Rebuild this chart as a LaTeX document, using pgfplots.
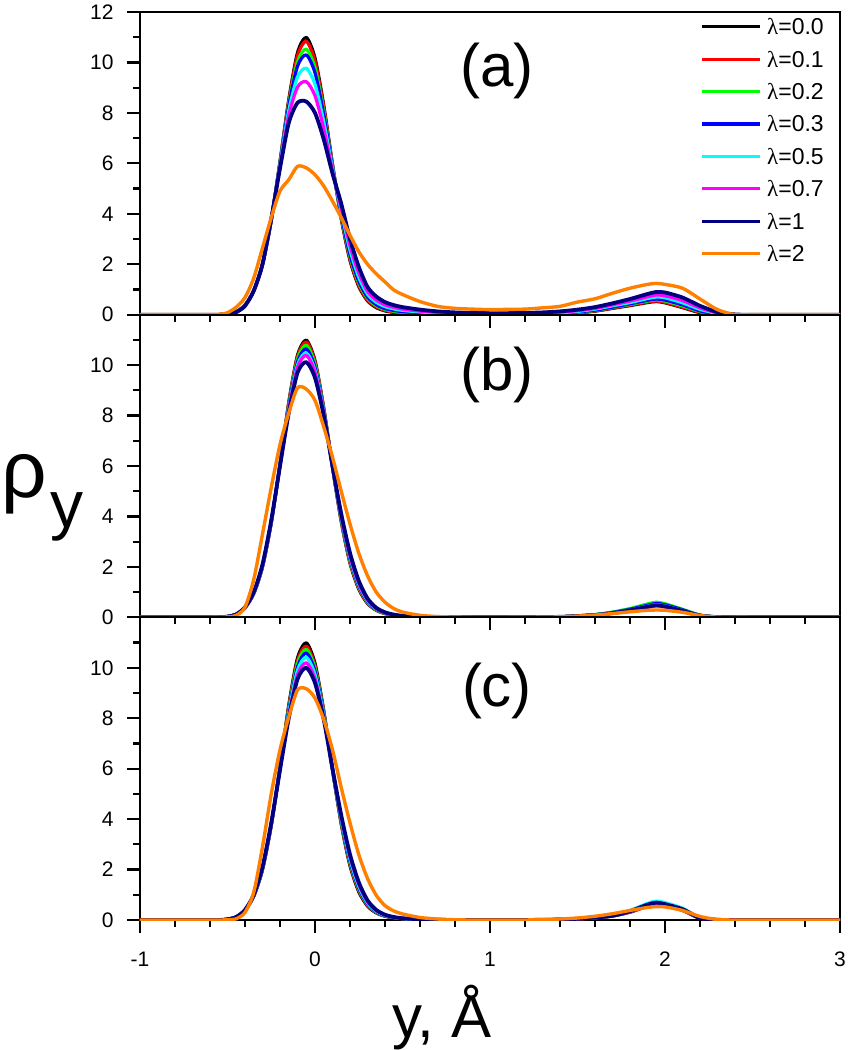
\documentclass[border=0pt]{standalone}
\usepackage{pgfplots}
\pgfplotsset{compat=1.18}
\usepackage{pgfplotstable}
\usepackage{fontspec}
\setmainfont{Liberation Sans}
\newfontfamily\lamfont{Liberation Serif}
\newcommand{\lam}{{\lamfont λ}}
\definecolor{cnavy}{RGB}{0,0,128}
\definecolor{corange}{RGB}{255,128,0}
\definecolor{cgreen}{RGB}{0,255,0}
\definecolor{ccyan}{RGB}{0,255,255}
\definecolor{cmag}{RGB}{255,0,255}
\definecolor{cred}{RGB}{255,0,0}
\definecolor{cblue}{RGB}{0,0,255}
\newcommand{\sw}[1]{\textcolor{#1}{\rule[6.4pt]{58pt}{3.2pt}}\hspace{7pt}}

\pgfplotstableread{
x      l0    l1    l2    l3    l5    l7    l10   l20
-1.0   0     0     0     0     0     0     0     0
-0.6   0     0     0     0     0     0     0     0
-0.55  0     0     0     0     0     0     0     0.01
-0.5   0.03  0.03  0.03  0.03  0.03  0.02  0.02  0.08
-0.45  0.12  0.12  0.12  0.11  0.11  0.11  0.10  0.30
-0.4   0.38  0.38  0.37  0.37  0.37  0.36  0.35  0.68
-0.35  0.94  0.94  0.94  0.94  0.94  0.95  0.95  1.45
-0.3   2.00  2.00  2.00  2.00  2.00  2.00  2.00  2.65
-0.25  3.75  3.75  3.76  3.76  3.77  3.78  3.80  3.85
-0.2   6.07  6.05  6.02  6.00  5.94  5.88  5.80  4.90
-0.15  8.52  8.46  8.35  8.27  8.08  7.89  7.60  5.35
-0.1   10.39 10.27 10.03 9.85  9.43  9.02  8.40  5.88
-0.05  10.99 10.84 10.53 10.30 9.77  9.24  8.45  5.82
0      10.18 10.05 9.79  9.59  9.13  8.68  8.00  5.55
0.05   8.30  8.22  8.06  7.94  7.65  7.37  6.95  5.10
0.1    5.96  5.94  5.90  5.86  5.79  5.71  5.60  4.50
0.15   3.80  3.84  3.91  3.96  4.09  4.21  4.40  3.85
0.2    2.15  2.20  2.30  2.38  2.56  2.74  3.00  3.15
0.25   1.12  1.17  1.26  1.33  1.49  1.66  1.90  2.50
0.3    0.55  0.58  0.65  0.70  0.81  0.93  1.10  2.00
0.35   0.28  0.31  0.36  0.40  0.49  0.58  0.72  1.62
0.4    0.15  0.17  0.21  0.24  0.32  0.39  0.50  1.30
0.45   0.09  0.11  0.14  0.17  0.23  0.29  0.38  0.98
0.5    0.05  0.07  0.10  0.12  0.17  0.22  0.30  0.80
0.6    0.02  0.03  0.05  0.07  0.11  0.14  0.20  0.52
0.7    0.01  0.02  0.03  0.04  0.07  0.09  0.13  0.33
0.8    0     0.01  0.02  0.02  0.04  0.06  0.09  0.25
0.9    0     0     0.01  0.02  0.03  0.05  0.07  0.22
1.0    0     0     0.01  0.02  0.03  0.04  0.06  0.20
1.1    0     0     0.01  0.02  0.03  0.04  0.06  0.21
1.2    0     0     0.01  0.02  0.03  0.05  0.07  0.22
1.3    0.01  0.01  0.02  0.03  0.05  0.07  0.09  0.27
1.4    0.03  0.04  0.05  0.06  0.08  0.10  0.13  0.33
1.5    0.07  0.08  0.09  0.11  0.13  0.16  0.20  0.50
1.6    0.14  0.15  0.17  0.18  0.22  0.25  0.30  0.63
1.7    0.25  0.26  0.29  0.30  0.35  0.39  0.45  0.85
1.8    0.36  0.38  0.41  0.43  0.48  0.54  0.62  1.05
1.9    0.48  0.50  0.54  0.57  0.64  0.71  0.82  1.20
1.95   0.52  0.54  0.59  0.62  0.70  0.78  0.90  1.24
2.0    0.47  0.49  0.54  0.58  0.67  0.75  0.88  1.20
2.1    0.28  0.30  0.35  0.39  0.47  0.56  0.68  1.05
2.2    0.08  0.10  0.13  0.15  0.21  0.27  0.35  0.62
2.3    0.01  0.02  0.03  0.03  0.05  0.07  0.10  0.20
2.4    0     0     0     0     0     0     0.01  0
2.5    0     0     0     0     0     0     0     0
3.0    0     0     0     0     0     0     0     0
}\tabA

\pgfplotstableread{
x      l0    l1    l2    l3    l5    l7    l10   l20
-1.0   0     0     0     0     0     0     0     0
-0.6   0     0     0     0     0     0     0     0
-0.55  0     0     0     0     0     0     0     0
-0.5   0.03  0.03  0.03  0.03  0.03  0.03  0.03  0.02
-0.45  0.12  0.12  0.12  0.12  0.12  0.12  0.12  0.08
-0.4   0.38  0.38  0.38  0.39  0.39  0.39  0.40  0.40
-0.35  0.94  0.94  0.95  0.96  0.97  0.98  1.00  1.50
-0.3   2.00  2.01  2.02  2.04  2.06  2.07  2.10  3.30
-0.25  3.75  3.76  3.77  3.79  3.81  3.82  3.85  5.15
-0.2   6.07  6.06  6.05  6.04  6.03  6.02  6.00  6.85
-0.15  8.52  8.49  8.42  8.36  8.28  8.23  8.10  8.10
-0.1   10.39 10.33 10.23 10.12 10.00 9.91  9.70  9.10
-0.05  10.99 10.92 10.79 10.65 10.49 10.39 10.12 9.05
0      10.18 10.13 10.02 9.91  9.79  9.71  9.50  8.60
0.05   8.30  8.28  8.23  8.18  8.13  8.09  8.00  7.55
0.1    5.96  5.96  5.97  5.98  5.98  5.99  6.00  6.35
0.15   3.80  3.82  3.87  3.92  3.97  4.01  4.10  5.00
0.2    2.15  2.18  2.24  2.31  2.38  2.43  2.55  3.70
0.25   1.12  1.15  1.20  1.25  1.31  1.35  1.45  2.55
0.3    0.55  0.57  0.60  0.63  0.66  0.69  0.75  1.65
0.35   0.28  0.29  0.30  0.32  0.34  0.35  0.38  1.00
0.4    0.15  0.15  0.16  0.17  0.18  0.18  0.20  0.60
0.45   0.09  0.09  0.09  0.10  0.10  0.10  0.11  0.35
0.5    0.05  0.05  0.05  0.05  0.06  0.06  0.06  0.21
0.6    0.02  0.02  0.02  0.02  0.02  0.02  0.02  0.08
0.7    0.01  0.01  0.01  0.01  0.01  0.01  0.01  0.03
0.8    0     0     0     0     0     0     0     0.01
0.9    0     0     0     0     0     0     0     0
1.0    0     0     0     0     0     0     0     0
1.1    0     0     0     0     0     0     0     0
1.2    0     0     0     0     0     0     0     0
1.3    0.01  0.01  0.01  0.01  0.01  0.01  0.01  0.01
1.4    0.02  0.02  0.02  0.02  0.02  0.02  0.02  0.02
1.5    0.05  0.05  0.06  0.06  0.05  0.05  0.05  0.05
1.6    0.10  0.10  0.11  0.10  0.10  0.09  0.09  0.09
1.7    0.18  0.18  0.21  0.19  0.18  0.16  0.17  0.15
1.8    0.30  0.30  0.35  0.32  0.29  0.26  0.28  0.22
1.9    0.46  0.46  0.53  0.48  0.44  0.40  0.42  0.28
1.95   0.52  0.52  0.60  0.55  0.50  0.45  0.48  0.29
2.0    0.47  0.47  0.54  0.50  0.45  0.41  0.43  0.28
2.1    0.28  0.28  0.32  0.30  0.27  0.24  0.26  0.20
2.2    0.08  0.08  0.09  0.08  0.08  0.07  0.07  0.07
2.3    0.01  0.01  0.01  0.01  0.01  0.01  0.01  0.01
2.4    0     0     0     0     0     0     0     0
2.5    0     0     0     0     0     0     0     0
3.0    0     0     0     0     0     0     0     0
}\tabB

\pgfplotstableread{
x      l0    l1    l2    l3    l5    l7    l10   l20
-1.0   0     0     0     0     0     0     0     0
-0.6   0     0     0     0     0     0     0     0
-0.55  0     0     0     0     0     0     0     0
-0.5   0.03  0.03  0.03  0.03  0.03  0.03  0.03  0.01
-0.45  0.12  0.12  0.12  0.12  0.12  0.12  0.12  0.05
-0.4   0.38  0.38  0.39  0.39  0.39  0.40  0.40  0.30
-0.35  0.94  0.95  0.96  0.96  0.97  0.99  1.00  1.10
-0.3   2.00  2.01  2.03  2.04  2.06  2.08  2.10  2.90
-0.25  3.75  3.76  3.78  3.79  3.81  3.83  3.85  5.00
-0.2   6.07  6.05  6.04  6.02  6.00  5.97  5.95  6.75
-0.15  8.52  8.45  8.38  8.31  8.22  8.10  8.00  8.05
-0.1   10.39 10.28 10.17 10.03 9.90  9.72  9.55  9.12
-0.05  10.99 10.86 10.73 10.59 10.42 10.20 10.00 9.17
0      10.18 10.08 9.98  9.87  9.73  9.56  9.40  8.80
0.05   8.30  8.25  8.21  8.16  8.10  8.02  7.95  7.95
0.1    5.96  5.97  5.97  5.98  5.98  5.99  6.00  6.75
0.15   3.80  3.85  3.89  3.94  4.00  4.08  4.15  5.25
0.2    2.15  2.21  2.27  2.33  2.41  2.51  2.60  3.85
0.25   1.12  1.17  1.22  1.27  1.34  1.42  1.50  2.60
0.3    0.55  0.58  0.61  0.64  0.68  0.73  0.78  1.65
0.35   0.28  0.30  0.31  0.33  0.35  0.38  0.40  0.98
0.4    0.15  0.16  0.17  0.17  0.18  0.20  0.21  0.57
0.45   0.09  0.09  0.10  0.10  0.11  0.11  0.12  0.36
0.5    0.05  0.05  0.06  0.06  0.06  0.07  0.07  0.24
0.6    0.02  0.02  0.02  0.02  0.03  0.03  0.03  0.10
0.7    0.01  0.01  0.01  0.01  0.01  0.01  0.01  0.04
0.8    0     0     0     0     0     0     0     0.01
0.9    0     0     0     0     0     0     0     0
1.0    0     0     0     0     0     0     0     0
1.1    0     0     0     0     0     0     0     0
1.2    0     0     0     0     0     0     0     0
1.3    0.01  0.01  0.01  0.01  0.01  0.01  0.01  0.02
1.4    0.02  0.02  0.02  0.02  0.02  0.02  0.02  0.04
1.5    0.04  0.04  0.05  0.05  0.05  0.05  0.05  0.08
1.6    0.09  0.09  0.09  0.10  0.11  0.09  0.10  0.15
1.7    0.16  0.16  0.16  0.17  0.19  0.17  0.17  0.25
1.8    0.31  0.32  0.33  0.34  0.38  0.33  0.35  0.38
1.9    0.55  0.55  0.57  0.60  0.66  0.58  0.61  0.50
1.95   0.62  0.63  0.65  0.68  0.75  0.66  0.69  0.53
2.0    0.57  0.58  0.60  0.63  0.69  0.61  0.63  0.52
2.1    0.38  0.39  0.40  0.42  0.47  0.41  0.43  0.38
2.2    0.07  0.08  0.08  0.08  0.09  0.08  0.08  0.14
2.3    0.01  0.01  0.01  0.01  0.01  0.01  0.01  0.02
2.4    0     0     0     0     0     0     0     0
2.5    0     0     0     0     0     0     0     0
3.0    0     0     0     0     0     0     0     0
}\tabC

\newcommand{\curves}[1]{%
  \addplot[black, line width=3.2pt] table[x=x,y=l0]{#1};
  \addplot[cred, line width=3.2pt] table[x=x,y=l1]{#1};
  \addplot[cgreen, line width=3.2pt] table[x=x,y=l2]{#1};
  \addplot[cblue, line width=3.2pt] table[x=x,y=l3]{#1};
  \addplot[ccyan, line width=3.2pt] table[x=x,y=l5]{#1};
  \addplot[cmag, line width=3.2pt] table[x=x,y=l7]{#1};
  \addplot[cnavy, line width=3.8pt] table[x=x,y=l10]{#1};
  \addplot[corange, line width=3.4pt] table[x=x,y=l20]{#1};
}

\pgfplotsset{
  panel/.style={
    scale only axis, width=700pt, height=302.67pt,
    xmin=-1, xmax=3, ymin=0, ymax=12,
    xtick={-1,0,1,2,3}, minor x tick num=4,
    tick align=outside, xtick pos=bottom, ytick pos=left,
    major tick length=13pt, minor tick length=7pt,
    axis line style={line width=2.2pt},
    tick style={black, line width=2.2pt},
    tick label style={font=\fontsize{21}{25}\selectfont},
    yticklabel style={xshift=-10pt},
    xticklabel style={yshift=-15pt},
    /pgf/number format/assume math mode=true,
    every axis plot/.append style={line join=round, smooth, tension=0.45},
  }
}

\begin{document}
\begin{tikzpicture}
\begin{axis}[panel, name=A, at={(0pt,0pt)}, anchor=north west,
  ytick={0,2,4,6,8,10,12}, yticklabels={0,2,4,6,8,10,12},
  minor ytick={1,3,5,7,9,11},
  xticklabels={},
  legend style={draw=none, fill=none, at={(axis description cs:0.80,0.985)}, anchor=north west,
    inner sep=0pt, font=\fontsize{23}{27}\selectfont, row sep=11.4pt,
    nodes={inner sep=2pt, text height=16pt, text depth=1pt},
    /tikz/every even column/.append style={column sep=0pt}},
  legend cell align=left,
  legend image code/.code={},
  legend entries={\sw{black}\lam=0.0,\sw{cred}\lam=0.1,\sw{cgreen}\lam=0.2,\sw{cblue}\lam=0.3,\sw{ccyan}\lam=0.5,\sw{cmag}\lam=0.7,\sw{cnavy}\lam=1,\sw{corange}\lam=2},
]
\curves{\tabA}
\node[font=\fontsize{60}{60}\selectfont] at (axis description cs:0.51,0.805) {(a)};
\end{axis}
\begin{axis}[panel, name=B, at={(A.south west)}, anchor=north west,
  ytick={0,2,4,6,8,10}, yticklabels={0,2,4,6,8,10},
  minor ytick={1,3,5,7,9,11},
  xticklabels={},
]
\curves{\tabB}
\node[font=\fontsize{60}{60}\selectfont] at (axis description cs:0.51,0.80) {(b)};
\end{axis}
\begin{axis}[panel, name=C, at={(B.south west)}, anchor=north west,
  ytick={0,2,4,6,8,10}, yticklabels={0,2,4,6,8,10},
  minor ytick={1,3,5,7,9,11},
  xticklabels={-1,0,1,2,3},
]
\curves{\tabC}
\node[font=\fontsize{60}{60}\selectfont] at (axis description cs:0.51,0.756) {(c)};
\end{axis}
\node[anchor=base west, inner sep=0pt, font=\fontsize{80}{80}\selectfont] at (-139pt,-485pt) {ρ};
\node[anchor=base west, inner sep=0pt, font=\fontsize{66}{66}\selectfont] at (-90pt,-515pt) {y};
\node[anchor=base west, inner sep=0pt, font=\fontsize{60}{60}\selectfont] at (252pt,-1025pt) {y, Å};
\pgfresetboundingbox
\path[use as bounding box] (-140pt,12pt) rectangle (708pt,-1038pt);
\end{tikzpicture}
\end{document}
